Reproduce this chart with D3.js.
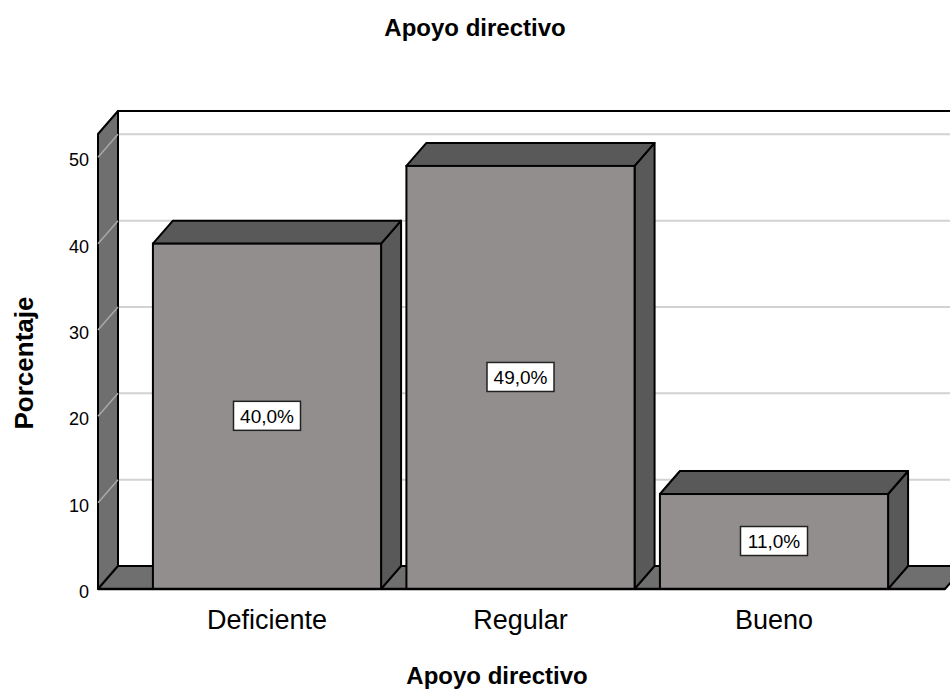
<!DOCTYPE html>
<html>
<head>
<meta charset="utf-8">
<script src="https://cdn.jsdelivr.net/npm/d3@7"></script>
<style>
  body { margin: 0; background: #fff; }
  svg { display: block; font-family: "Liberation Sans", Arial, sans-serif; }
</style>
</head>
<body>
<script>
// Datos
const categories = ["Deficiente", "Regular", "Bueno"];
const percents = [40.0, 49.0, 11.0];
const yTicks = [0, 10, 20, 30, 40, 50];

const width = 950, height = 692;
const depthX = 20, depthY = -23;   // desplazamiento 3D
const frameL = 98, frameR = 945;

const svg = d3.select("body").append("svg")
  .attr("width", width).attr("height", height);

const y = d3.scaleLinear().domain([0, 52.7]).range([589, 134]);
const x = d3.scaleBand().domain(categories)
  .range([140.25, 900.75]).paddingInner(0.1).paddingOuter(0.05);

const y0 = y(0), yTop = y(52.7);

// ── Pared del fondo ──
svg.append("rect")
  .attr("x", frameL + depthX).attr("y", yTop + depthY)
  .attr("width", width).attr("height", y0 - yTop)
  .attr("fill", "#fff");

// Líneas de cuadrícula (fondo)
svg.append("g").selectAll("line").data(yTicks.filter(d => d > 0)).join("line")
  .attr("x1", frameL + depthX).attr("x2", width)
  .attr("y1", d => y(d) + depthY).attr("y2", d => y(d) + depthY)
  .attr("stroke", "#d2d2d2").attr("stroke-width", 2);

svg.append("path")
  .attr("d", `M${frameL + depthX},${y0 + depthY}V${yTop + depthY}H${width}`)
  .attr("fill", "none").attr("stroke", "#000").attr("stroke-width", 2);

// ── Pared izquierda ──
svg.append("path")
  .attr("d", `M${frameL},${y0}V${yTop}L${frameL + depthX},${yTop + depthY}V${y0 + depthY}Z`)
  .attr("fill", "#6f6f6f").attr("stroke", "#000").attr("stroke-width", 2)
  .attr("stroke-linejoin", "round");

svg.append("g").selectAll("line").data(yTicks).join("line")
  .attr("x1", frameL).attr("x2", frameL + depthX)
  .attr("y1", d => y(d)).attr("y2", d => y(d) + depthY)
  .attr("stroke", "#a9a9a9").attr("stroke-width", 1.5);

// ── Suelo ──
svg.append("path")
  .attr("d", `M${frameL},${y0}L${frameL + depthX},${y0 + depthY}H${frameR + depthX}L${frameR},${y0}Z`)
  .attr("fill", "#6f6f6f").attr("stroke", "#000").attr("stroke-width", 2)
  .attr("stroke-linejoin", "round");

// ── Barras 3D ──
const bars = svg.append("g").selectAll("g").data(categories.map((c, i) => ({c, v: percents[i]})))
  .join("g");

bars.append("path") // lateral
  .attr("d", d => {
    const x1 = x(d.c) + x.bandwidth(), yv = y(d.v);
    return `M${x1},${yv}L${x1 + depthX},${yv + depthY}V${y0 + depthY}L${x1},${y0}Z`;
  })
  .attr("fill", "#595959").attr("stroke", "#000").attr("stroke-width", 2)
  .attr("stroke-linejoin", "round");

bars.append("path") // tapa
  .attr("d", d => {
    const x0 = x(d.c), x1 = x0 + x.bandwidth(), yv = y(d.v);
    return `M${x0},${yv}L${x0 + depthX},${yv + depthY}H${x1 + depthX}L${x1},${yv}Z`;
  })
  .attr("fill", "#595959").attr("stroke", "#000").attr("stroke-width", 2)
  .attr("stroke-linejoin", "round");

bars.append("rect") // frente
  .attr("x", d => x(d.c)).attr("y", d => y(d.v))
  .attr("width", x.bandwidth()).attr("height", d => y0 - y(d.v))
  .attr("fill", "#938e8e").attr("stroke", "#000").attr("stroke-width", 2);

// Etiquetas de valor
const fmt = v => d3.format(".1f")(v).replace(".", ",") + "%";
bars.append("rect")
  .attr("x", d => x(d.c) + x.bandwidth() / 2 - 33.5)
  .attr("y", d => (y(d.v) + y0) / 2 - 15)
  .attr("width", 67).attr("height", 29)
  .attr("fill", "#fff").attr("stroke", "#222").attr("stroke-width", 1.5);
bars.append("text")
  .attr("x", d => x(d.c) + x.bandwidth() / 2)
  .attr("y", d => (y(d.v) + y0) / 2 + 6.5)
  .attr("text-anchor", "middle").attr("font-size", 19).attr("fill", "#000")
  .text(d => fmt(d.v));

// Línea frontal del suelo
svg.append("line")
  .attr("x1", frameL).attr("x2", frameR).attr("y1", y0).attr("y2", y0)
  .attr("stroke", "#000").attr("stroke-width", 2.5);

// ── Eje Y ──
svg.append("g").selectAll("text").data(yTicks).join("text")
  .attr("x", 89).attr("y", d => y(d) + 9)
  .attr("text-anchor", "end").attr("font-size", 18).attr("fill", "#000")
  .text(d => d);

// ── Eje X ──
svg.append("g").selectAll("text").data(categories).join("text")
  .attr("x", d => x(d) + x.bandwidth() / 2).attr("y", 629)
  .attr("text-anchor", "middle").attr("font-size", 27).attr("fill", "#000")
  .text(d => d);

// Títulos
svg.append("text").attr("x", 475).attr("y", 36)
  .attr("text-anchor", "middle").attr("font-size", 24).attr("font-weight", "bold")
  .text("Apoyo directivo");
svg.append("text").attr("x", 497).attr("y", 684)
  .attr("text-anchor", "middle").attr("font-size", 24).attr("font-weight", "bold")
  .text("Apoyo directivo");
svg.append("text").attr("transform", "translate(33,363) rotate(-90)")
  .attr("text-anchor", "middle").attr("font-size", 26).attr("font-weight", "bold")
  .text("Porcentaje");
</script>
</body>
</html>
